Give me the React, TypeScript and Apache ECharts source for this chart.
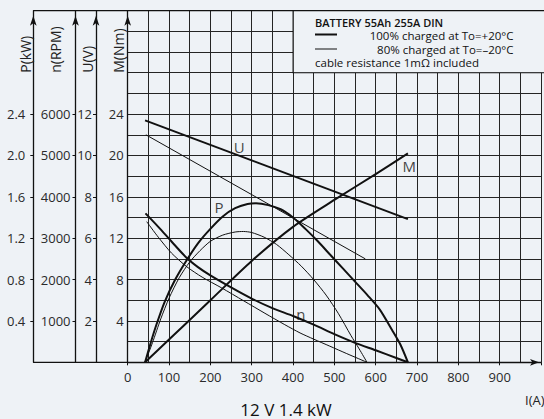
import React, { useEffect, useRef } from "react";
import * as echarts from "echarts";

// ---- data ----
const currentLabels = [0, 100, 200, 300, 400, 500, 600, 700, 800, 900];
const torqueLabels = [4, 8, 12, 16, 20, 24];
const voltageTicks = [2, 4, 6, 8, 10, 12];
const speedTicks = [1000, 2000, 3000, 4000, 5000, 6000];
const powerTicks = [0.4, 0.8, 1.2, 1.6, 2.0, 2.4];

// I (A), U (V)
const voltageWarm = [[42, 11.7], [678, 6.92]];
const voltageCold = [[44, 11.0], [575, 5.0]];
// I (A), M (Nm)
const torqueWarm = [[42, 0], [100, 2.2], [200, 6.0], [300, 9.8], [400, 13.1], [500, 15.7], [600, 18.2], [678, 20.2]];
// I (A), P (kW)
const powerWarm = [[42, 0], [55, 0.18], [70, 0.37], [90, 0.59], [115, 0.8], [140, 0.97], [170, 1.15], [200, 1.29], [230, 1.41], [260, 1.49], [290, 1.53], [310, 1.537], [340, 1.52], [370, 1.48], [400, 1.4], [430, 1.29], [460, 1.17], [490, 1.04], [520, 0.91], [550, 0.78], [580, 0.65], [610, 0.51], [640, 0.31], [660, 0.17], [678, 0]];
const powerCold = [[42, 0], [60, 0.19], [80, 0.42], [100, 0.62], [125, 0.82], [150, 0.97], [175, 1.08], [200, 1.17], [230, 1.23], [260, 1.26], [280, 1.265], [300, 1.255], [330, 1.21], [360, 1.14], [390, 1.04], [420, 0.93], [450, 0.8], [480, 0.65], [510, 0.47], [540, 0.26], [560, 0.13], [579, 0]];
// I (A), n (RPM)
const speedWarm = [[43, 3600], [74, 3275], [106, 2920], [143, 2520], [170, 2300], [200, 2100], [250, 1810], [300, 1540], [350, 1310], [400, 1120], [450, 910], [500, 680], [550, 470], [600, 290], [650, 105], [678, 0]];
const speedCold = [[46, 3400], [74, 3025], [106, 2640], [143, 2310], [180, 2060], [227, 1800], [280, 1490], [332, 1185], [380, 910], [417, 710], [450, 560], [489, 390], [530, 210], [579, 0]];
// curve names placed at (I, M-scale)
const curveNames = [["U", 270, 20.85], ["M", 681, 19.0], ["P", 221, 15.05], ["n", 419, 4.7]];

const FONT = "Open Sans";
const INK = "#111";
const GRID = "#242424";
const BG = "#eef2f6";

// grid geometry (layout only)
const G_LEFT = 127.7;
const G_TOP = 10.7;
const G_RIGHT = 541.3;
const G_BOTTOM = 362.3;
const X_MAX = 1000;
const M_MAX = 34;
const px = (i: number) => G_LEFT + (i / X_MAX) * (G_RIGHT - G_LEFT);
const py = (m: number) => G_BOTTOM - (m / M_MAX) * (G_BOTTOM - G_TOP);

const axisText = { fontFamily: FONT, fontSize: 13, color: "#2a2a2a" };

function sideAxis(offset: number, max: number, ticks: number[], margin: number, fmt: (v: number) => string) {
  return {
    type: "value",
    position: "left",
    offset,
    min: 0,
    max,
    axisLine: {
      show: true,
      symbol: ["none", "arrow"],
      symbolSize: [5, 10],
      symbolOffset: [0, -5],
      lineStyle: { color: INK, width: 1.3 },
    },
    axisTick: { show: true, customValues: ticks, length: 3, lineStyle: { color: INK, width: 1 } },
    axisLabel: { show: true, customValues: ticks, margin, formatter: fmt, ...axisText },
    splitLine: { show: false },
  };
}

export default function App() {
  const ref = useRef<HTMLDivElement>(null);
  useEffect(() => {
    if (!ref.current) return;
    const chart = echarts.init(ref.current, undefined, { renderer: "svg" });
    const line = (data: number[][], yAxisIndex: number, width: number, smooth: number | boolean) => ({
      type: "line",
      data,
      yAxisIndex,
      symbol: "none",
      smooth,
      lineStyle: { color: INK, width },
      z: 3,
    });
    const legendX = px(400);
    const legendFont = `11.5px "${FONT}"`;
    chart.setOption({
      animation: false,
      backgroundColor: BG,
      grid: { left: G_LEFT, top: G_TOP, right: 544 - G_RIGHT, bottom: 419 - G_BOTTOM },
      xAxis: {
        type: "value",
        min: 0,
        max: X_MAX,
        interval: 100,
        axisLine: {
          show: true,
          symbol: ["none", "arrow"],
          symbolSize: [5, 9],
          symbolOffset: [0, -2],
          lineStyle: { color: INK, width: 1.3 },
        },
        axisTick: { show: true, length: 3, lineStyle: { color: INK } },
        axisLabel: {
          margin: 8,
          formatter: (v: number) => (currentLabels.includes(v) ? String(v) : ""),
          ...axisText,
        },
        splitLine: { show: true, lineStyle: { color: GRID, width: 1 } },
        minorTick: { show: false, splitNumber: 2 },
        minorSplitLine: { show: true, lineStyle: { color: GRID, width: 1 } },
      },
      yAxis: [
        {
          type: "value",
          position: "left",
          offset: 0,
          min: 0,
          max: M_MAX,
          interval: 2,
          axisLine: {
            show: true,
            symbol: ["none", "arrow"],
            symbolSize: [5, 10],
            symbolOffset: [0, -5],
            lineStyle: { color: INK, width: 1.3 },
          },
          axisTick: { show: false },
          axisLabel: {
            margin: 4,
            formatter: (v: number) => (torqueLabels.includes(v) ? String(v) : ""),
            ...axisText,
          },
          splitLine: { show: true, lineStyle: { color: GRID, width: 1 } },
        },
        sideAxis(G_LEFT - 96, M_MAX / 2, voltageTicks, 4, (v: number) => String(v)),
        sideAxis(G_LEFT - 75.5, M_MAX * 250, speedTicks, 5, (v: number) => String(v)),
        sideAxis(G_LEFT - 33.3, M_MAX / 10, powerTicks, 8, (v: number) => v.toFixed(1)),
      ],
      series: [
        line(voltageWarm, 1, 2, false),
        line(voltageCold, 1, 1, false),
        line(torqueWarm, 0, 2, 0.25),
        line(powerWarm, 3, 2, 0.25),
        line(powerCold, 3, 1, 0.25),
        line(speedWarm, 2, 2, 0.25),
        line(speedCold, 2, 1, 0.25),
        {
          type: "scatter",
          yAxisIndex: 0,
          symbolSize: 0,
          data: curveNames.map((c) => ({ value: [c[1], c[2]], name: c[0] })),
          label: {
            show: true,
            position: "inside",
            formatter: (p: any) => p.name,
            fontFamily: FONT,
            fontSize: 15,
            color: INK,
          },
          z: 4,
        },
      ],
      graphic: [
        // top frame line and left part of bottom line
        { type: "line", z: 5, shape: { x1: G_LEFT - 94.4, y1: G_TOP, x2: 544, y2: G_TOP }, style: { stroke: INK, lineWidth: 1.3 } },
        { type: "line", z: 5, shape: { x1: G_LEFT - 94.4, y1: G_BOTTOM, x2: G_LEFT, y2: G_BOTTOM }, style: { stroke: INK, lineWidth: 1.3 } },
        // legend box
        {
          type: "rect",
          z: 10,
          shape: { x: legendX, y: G_TOP, width: 544 - legendX + 2, height: py(28) - G_TOP },
          style: { fill: BG, stroke: INK, lineWidth: 1.2 },
        },
        { type: "text", z: 11, x: 315, y: 22.5, style: { text: "BATTERY 55Ah 255A DIN", font: `600 11px "${FONT}"`, lineHeight: 12, fill: INK, align: "left", verticalAlign: "middle" } },
        { type: "line", z: 11, shape: { x1: 315, y1: 34.5, x2: 337, y2: 34.5 }, style: { stroke: INK, lineWidth: 2 } },
        { type: "text", z: 11, x: 513.5, y: 35.5, style: { text: "100% charged at To=+20°C", font: legendFont, lineHeight: 12, fill: INK, align: "right", verticalAlign: "middle" } },
        { type: "line", z: 11, shape: { x1: 315, y1: 49, x2: 337, y2: 49 }, style: { stroke: INK, lineWidth: 1 } },
        { type: "text", z: 11, x: 513.5, y: 49, style: { text: "80% charged at To=–20°C", font: legendFont, lineHeight: 12, fill: INK, align: "right", verticalAlign: "middle" } },
        { type: "text", z: 11, x: 315, y: 62.5, style: { text: "cable resistance 1mΩ included", font: legendFont, lineHeight: 12, fill: INK, align: "left", verticalAlign: "middle" } },
        // axis names
        ...[["P(kW)", 25], ["n(RPM)", 55], ["U(V)", 87.5], ["M(Nm)", 118.3]].map(([t, x]) => ({
          type: "text",
          z: 5,
          x: x as number,
          y: py(28),
          rotation: Math.PI / 2,
          style: { text: t as string, font: `14px "${FONT}"`, fill: "#222", align: "left", verticalAlign: "middle" },
        })),
        { type: "text", z: 5, x: 525, y: 400, style: { text: "I(A)", font: `13px "${FONT}"`, fill: "#222", align: "left", verticalAlign: "middle" } },
        { type: "text", z: 5, x: 286, y: 409, style: { text: "12 V 1.4 kW", font: `17px "${FONT}"`, lineHeight: 18, fill: "#111", align: "center", verticalAlign: "middle" } },
      ],
    });
    return () => chart.dispose();
  }, []);
  return <div ref={ref} style={{ position: "fixed", left: 0, top: 0, width: 544, height: 419 }} />;
}
